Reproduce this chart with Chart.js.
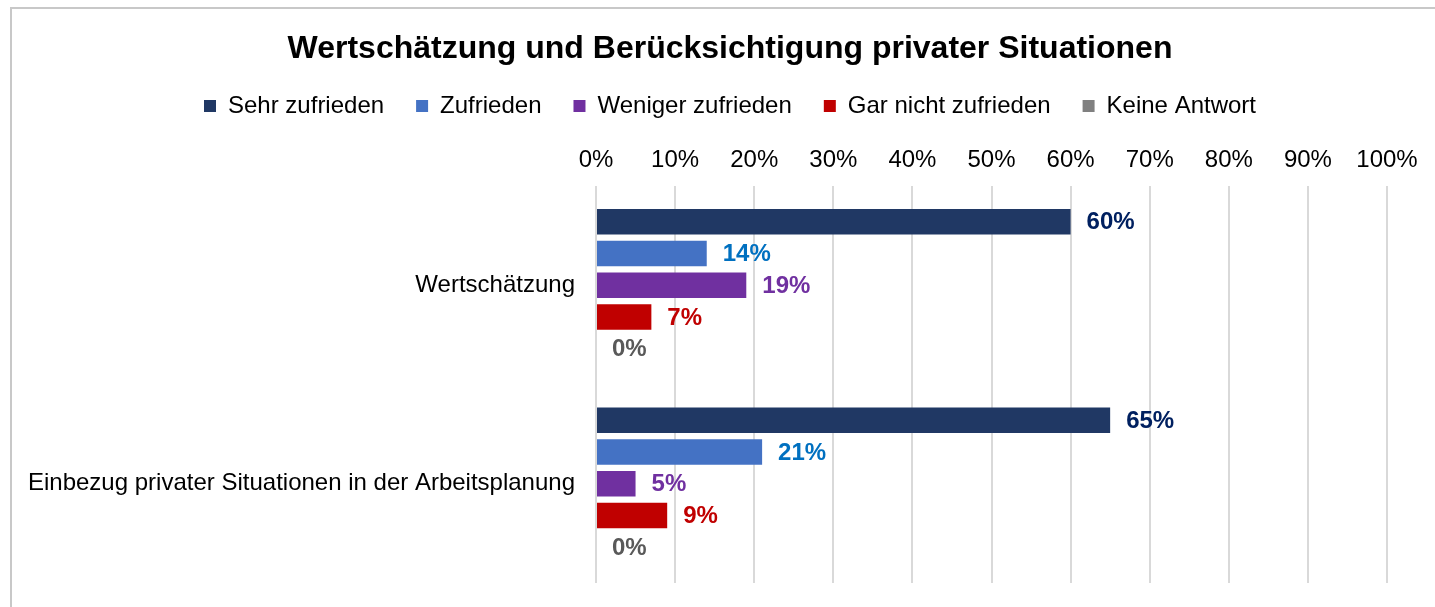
<!DOCTYPE html>
<html>
<head>
<meta charset="utf-8">
<script src="https://cdn.jsdelivr.net/npm/chart.js@4"></script>
<style>
    html, body { margin: 0; padding: 0; background: #ffffff; overflow: hidden; }
    #frame {
        position: absolute; left: 10px; top: 7px;
        width: 1500px; height: 700px;
        border: 2px solid #c8c8c8;
    }
    #wrap { position: absolute; left: 0; top: 0; width: 1435px; height: 607px; }
</style>
</head>
<body>
<div id="frame"></div>
<div id="wrap"><canvas id="chart" width="1435" height="607"></canvas></div>
<script>
const categories = ['Wertschätzung', 'Einbezug privater Situationen in der Arbeitsplanung'];
const seriesNames = ['Sehr zufrieden', 'Zufrieden', 'Weniger zufrieden', 'Gar nicht zufrieden', 'Keine Antwort'];
const sehrZufrieden = [60, 65];
const zufrieden = [14, 21];
const wenigerZufrieden = [19, 5];
const garNichtZufrieden = [7, 9];
const keineAntwort = [0, 0];
const xTicks = [0, 10, 20, 30, 40, 50, 60, 70, 80, 90, 100];

const barColors = ['#203864', '#4472C4', '#7030A0', '#C00000', '#808080'];
const labelColors = ['#002060', '#0070C0', '#7030A0', '#C00000', '#595959'];
const seriesValues = [sehrZufrieden, zufrieden, wenigerZufrieden, garNichtZufrieden, keineAntwort];

Chart.defaults.font.family = "'Liberation Sans', Arial, sans-serif";
Chart.defaults.color = '#000000';

// draws the value labels right of each bar
const valueLabels = {
    id: 'valueLabels',
    afterDatasetsDraw(chart) {
        const ctx = chart.ctx;
        ctx.save();
        ctx.font = "bold 24px 'Liberation Sans', Arial, sans-serif";
        ctx.textAlign = 'left';
        ctx.textBaseline = 'middle';
        chart.data.datasets.forEach((ds, i) => {
            const meta = chart.getDatasetMeta(i);
            ctx.fillStyle = labelColors[i];
            meta.data.forEach((bar, j) => {
                ctx.fillText(ds.data[j] + '%', bar.x + 16, bar.y + 1);
            });
        });
        ctx.restore();
    }
};

new Chart(document.getElementById('chart'), {
    type: 'bar',
    data: {
        labels: categories,
        datasets: seriesNames.map((name, i) => ({
            label: name,
            data: seriesValues[i],
            backgroundColor: barColors[i],
            borderWidth: 0,
            categoryPercentage: 0.8,
            barPercentage: 0.8
        }))
    },
    options: {
        indexAxis: 'y',
        responsive: false,
        animation: false,
        layout: { padding: { left: 73, right: 48, top: 0, bottom: 24 } },
        plugins: {
            title: {
                display: true,
                text: 'Wertschätzung und Berücksichtigung privater Situationen',
                font: { size: 32, weight: 'bold', lineHeight: 1.0 },
                color: '#000000',
                padding: { top: 33, bottom: -3 }
            },
            legend: {
                position: 'top',
                labels: {
                    boxWidth: 12,
                    boxHeight: 12,
                    padding: 32,
                    font: { size: 24 },
                    color: '#000000'
                }
            },
            tooltip: { enabled: false }
        },
        scales: {
            x: {
                position: 'top',
                min: 0,
                max: 100,
                afterBuildTicks(scale) {
                    scale.ticks = xTicks.map(v => ({ value: v }));
                },
                afterFit(scale) { scale.height = 58; },
                ticks: {
                    padding: 11,
                    font: { size: 24 },
                    color: '#000000',
                    callback: v => v + '%'
                },
                grid: { color: '#d9d9d9', lineWidth: 2, drawTicks: false },
                border: { display: false }
            },
            y: {
                afterFit(scale) {
                    scale.width = 523;
                    scale.paddingTop = 0;
                    scale.paddingBottom = 0;
                    // long category label reaches past the axis box, so no clipping
                    scale._computeLabelArea = () => undefined;
                },
                ticks: { padding: 21, font: { size: 24 }, color: '#000000' },
                grid: { display: false, drawTicks: false },
                border: { display: false }
            }
        }
    },
    plugins: [valueLabels]
});
</script>
</body>
</html>
